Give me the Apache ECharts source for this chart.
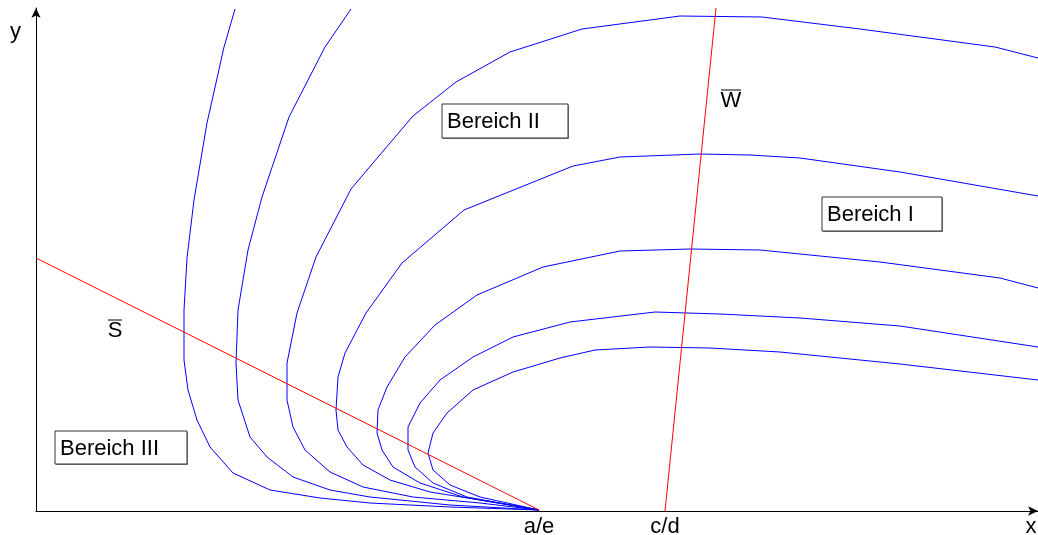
<!DOCTYPE html>
<html>
<head>
<meta charset="utf-8">
<script src="https://cdn.jsdelivr.net/npm/echarts@6/dist/echarts.min.js"></script>
<style>
  html, body { margin: 0; background: #fff; }
  #chart { width: 1038px; height: 535px; }
</style>
</head>
<body>
<div id="chart"></div>
<script>
// blue curves, [x, y]
const curve1 = [[199,502],[188,464],[171,388],[158,311],[151,253],[148,201],[148,151],[152,121],[161,91],[174,64],[197,38],[234,21],[284,13],[334,8],[414,4],[503,1]];
const curve2 = [[315,502],[289,464],[253,394],[226,314],[212,261],[202,201],[200,148],[202,111],[214,74],[231,54],[257,34],[294,21],[334,14],[414,6],[503,1]];
const curve3 = [[1002,453],[959,464],[824,482],[726,494],[644,495],[546,482],[474,459],[420,429],[377,395],[348,361],[315,322],[280,254],[261,198],[251,148],[251,111],[257,84],[269,61],[294,39],[327,24],[377,14],[444,8],[503,1]];
const curve4 = [[1002,315],[864,339],[764,353],[714,356],[664,357],[584,354],[537,345],[428,301],[366,248],[330,198],[309,158],[302,134],[300,101],[302,81],[311,64],[327,46],[354,31],[394,19],[444,11],[503,1]];
const curve5 = [[1002,223],[964,233],[844,249],[724,261],[654,262],[584,260],[507,244],[441,216],[399,186],[369,154],[351,124],[342,101],[341,78],[346,61],[357,44],[384,28],[427,14],[503,1]];
const curve6 = [[1002,164],[864,185],[764,193],[684,197],[619,199],[534,189],[477,174],[437,154],[404,131],[384,108],[372,84],[372,61],[379,44],[397,28],[431,14],[503,1]];
const curve7 = [[1002,131],[864,147],[744,159],[674,163],[614,164],[559,161],[524,153],[477,139],[437,121],[411,98],[397,78],[392,58],[397,41],[414,26],[444,14],[503,1]];

// red lines
const lineS = [[0,253],[503,1]];
const lineW = [[629,0],[680,503]];

// axis labels
const xTickValues = [503, 629, 995];
const xTickLabels = ['a/e', 'c/d', 'x'];
const yTickValues = [479];
const yTickLabels = ['y'];

// annotations (anchor in data units)
const boxTexts = ['Bereich II', 'Bereich I', 'Bereich III'];
const boxAnchors = [[406,407],[786,314],[19,80]];
const lineNames = ['S', 'W'];
const lineNameAnchors = [[79,181],[695,411]];

const FONT = 'Liberation Sans, Arial, sans-serif';
const chart = echarts.init(document.getElementById('chart'));

const blue = [curve1, curve2, curve3, curve4, curve5, curve6, curve7].map(d => ({
  type: 'line', data: d, symbol: 'none', silent: true,
  lineStyle: { color: '#0000ff', width: 1 }
}));
const red = [lineS, lineW].map(d => ({
  type: 'line', data: d, symbol: 'none', silent: true,
  lineStyle: { color: '#ff0000', width: 1 }
}));

chart.setOption({
  animation: false,
  backgroundColor: '#fff',
  grid: { left: 36, right: 0, top: 8, bottom: 24, containLabel: false, outerBoundsMode: 'none' },
  xAxis: {
    type: 'value', min: 0, max: 1002,
    splitLine: { show: false }, axisTick: { show: false },
    axisLine: { onZero: false, symbol: ['none', 'arrow'], symbolSize: [7, 10],
      lineStyle: { color: '#000', width: 1 } },
    axisLabel: {
      customValues: xTickValues, margin: 5, color: '#000', fontSize: 22, fontFamily: FONT,
      formatter: v => xTickLabels[xTickValues.indexOf(v)] || ''
    }
  },
  yAxis: {
    type: 'value', min: 0, max: 503,
    splitLine: { show: false }, axisTick: { show: false },
    axisLine: { onZero: false, symbol: ['none', 'arrow'], symbolSize: [7, 10],
      lineStyle: { color: '#000', width: 1 } },
    axisLabel: {
      customValues: yTickValues, margin: 15, color: '#000', fontSize: 22, fontFamily: FONT,
      formatter: v => yTickLabels[yTickValues.indexOf(v)] || ''
    }
  },
  series: blue.concat(red)
});

// boxes and overlined names placed from data coordinates
const boxSizes = [[126,34],[120,34],[132,33]];
const graphics = [];
boxTexts.forEach((t, i) => {
  const p = chart.convertToPixel({ gridIndex: 0 }, boxAnchors[i]);
  const w = boxSizes[i][0], h = boxSizes[i][1];
  graphics.push({
    type: 'group', x: p[0], y: p[1], silent: true,
    children: [
      { type: 'rect', shape: { x: 1, y: 1, width: w, height: h }, style: { fill: '#888' } },
      { type: 'rect', shape: { x: 0, y: 0, width: w, height: h }, style: { fill: '#fff', stroke: '#333', lineWidth: 1 } },
      { type: 'text', style: { text: t, x: 5, y: h / 2 + 1, verticalAlign: 'middle', fill: '#000', font: '22px ' + FONT } }
    ]
  });
});
lineNames.forEach((t, i) => {
  const p = chart.convertToPixel({ gridIndex: 0 }, lineNameAnchors[i]);
  const hw = t === 'W' ? 10 : 7;
  graphics.push({
    type: 'group', x: p[0], y: p[1], silent: true,
    children: [
      { type: 'text', style: { text: t, x: 0, y: 1, align: 'center', verticalAlign: 'middle', fill: '#000', font: '22px ' + FONT } },
      { type: 'line', shape: { x1: -hw, y1: -10, x2: hw, y2: -10 }, style: { stroke: '#000', lineWidth: 1 } }
    ]
  });
});
chart.setOption({ graphic: graphics });
</script>
</body>
</html>
